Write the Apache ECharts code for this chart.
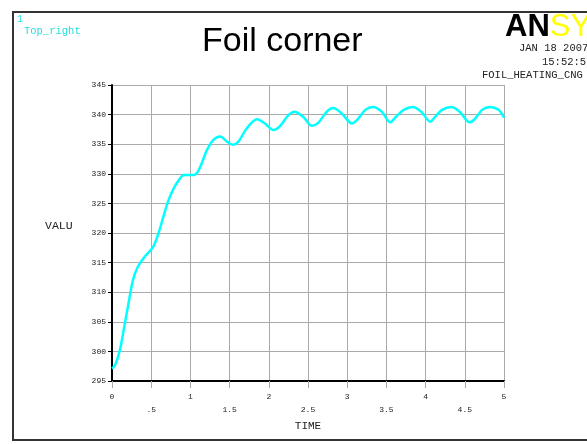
<!DOCTYPE html>
<html>
<head>
<meta charset="utf-8">
<script src="https://cdn.jsdelivr.net/npm/echarts@6/dist/echarts.min.js"></script>
<style>
html,body{margin:0;padding:0;background:#fff;}
#chart{width:587px;height:444px;}
</style>
</head>
<body>
<div id="chart"></div>
<script>
// Data
var timeValues = [0, 0.04, 0.10, 0.153, 0.21, 0.268, 0.33, 0.417, 0.523, 0.587, 0.65, 0.714, 0.778, 0.84, 0.918,
  1.046, 1.097, 1.16, 1.21, 1.29, 1.38, 1.46, 1.54, 1.61, 1.72, 1.85, 1.95, 2.06, 2.14, 2.25, 2.33, 2.44, 2.55,
  2.63, 2.74, 2.82, 2.93, 3.06, 3.14, 3.23, 3.33, 3.44, 3.55, 3.62, 3.72, 3.84, 3.95, 4.06, 4.12, 4.21, 4.33,
  4.44, 4.56, 4.63, 4.72, 4.82, 4.93, 5.0];
var valuValues = [297.1, 297.7, 300.2, 303.9, 308.1, 312.1, 314.3, 316.0, 317.6, 319.7, 322.5, 325.3, 327.3, 328.7, 329.8,
  329.8, 330.4, 332.3, 334.0, 335.7, 336.3, 335.5, 334.9, 335.4, 337.7, 339.2, 338.5, 337.4, 338.0, 339.9, 340.5, 339.6, 338.1,
  338.6, 340.5, 341.1, 340.2, 338.5, 339.3, 340.8, 341.3, 340.5, 338.7, 339.6, 340.8, 341.3, 340.4, 338.8, 339.6, 340.8, 341.3,
  340.4, 338.7, 339.3, 340.8, 341.3, 340.8, 339.5];
var xTickLabels = ['0', '.5', '1', '1.5', '2', '2.5', '3', '3.5', '4', '4.5', '5'];
var yTickLabels = ['295', '300', '305', '310', '315', '320', '325', '330', '335', '340', '345'];

var seriesData = timeValues.map(function (t, i) { return [t, valuValues[i]]; });
var mono = 'Liberation Mono';

var chart = echarts.init(document.getElementById('chart'), null, {renderer: 'canvas'});
chart.setOption({
  animation: false,
  backgroundColor: '#ffffff',
  grid: {left: 112, right: 83, top: 85, bottom: 63, containLabel: false},
  xAxis: {
    type: 'value', min: 0, max: 5, interval: 0.5,
    name: 'TIME', nameLocation: 'middle', nameGap: 33,
    nameTextStyle: {fontFamily: mono, fontSize: 11, color: '#222'},
    axisLine: {show: true, onZero: false, lineStyle: {color: '#000', width: 2}},
    axisTick: {show: true, length: 7, lineStyle: {color: '#aaa', width: 1}},
    axisLabel: {
      margin: 9, fontFamily: mono, fontSize: 8, color: '#222', lineHeight: 13,
      formatter: function (v, i) { return i % 2 ? '\n' + xTickLabels[i] : xTickLabels[i]; }
    },
    splitLine: {show: true, lineStyle: {color: '#aaa', width: 1}}
  },
  yAxis: {
    type: 'value', min: 295, max: 345, interval: 5,
    axisLine: {show: true, onZero: false, lineStyle: {color: '#000', width: 2}},
    axisTick: {show: true, length: 4, lineStyle: {color: '#000', width: 1}},
    axisLabel: {
      margin: 6, fontFamily: mono, fontSize: 8, color: '#222',
      formatter: function (v, i) { return yTickLabels[i]; }
    },
    splitLine: {show: true, lineStyle: {color: '#aaa', width: 1}}
  },
  series: [{
    type: 'line', data: seriesData, smooth: 0.3, symbol: 'none',
    lineStyle: {color: '#00ffff', width: 2.5}
  }],
  graphic: [
    {type: 'rect', shape: {x: 13, y: 12, width: 600, height: 428}, style: {fill: 'none', stroke: '#333', lineWidth: 2}, z: 10},
    {type: 'text', left: 17, top: 14, style: {text: '1', font: '10px "Liberation Mono"', fill: '#22dddd'}},
    {type: 'text', left: 24, top: 26, style: {text: 'Top_right', font: '10.5px "Liberation Mono"', fill: '#22dddd'}},
    {type: 'text', left: 202, top: 25, style: {text: 'Foil corner', font: '34px "Liberation Sans"', fill: '#000'}},
    {type: 'text', left: 505, top: 12, style: {
      text: '{a|AN}{b|SYS}',
      rich: {
        a: {fontFamily: 'Liberation Sans', fontWeight: 'bold', fontSize: 31, fill: '#000', color: '#000'},
        b: {fontFamily: 'Liberation Sans', fontSize: 31, color: '#ffff00', fill: '#ffff00'}
      }
    }},
    {type: 'text', left: 519, top: 43, style: {text: 'JAN 18 2007', font: '10.5px "Liberation Mono"', fill: '#222'}},
    {type: 'text', left: 542, top: 57, style: {text: '15:52:57', font: '10.5px "Liberation Mono"', fill: '#222'}},
    {type: 'text', left: 482, top: 70, style: {text: 'FOIL_HEATING_CNG', font: '10.5px "Liberation Mono"', fill: '#222'}},
    {type: 'text', left: 45, top: 220, style: {text: 'VALU', font: '11.5px "Liberation Mono"', fill: '#222'}}
  ]
});
</script>
</body>
</html>
